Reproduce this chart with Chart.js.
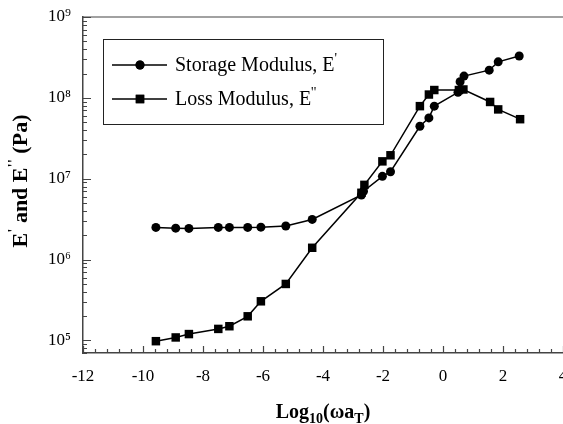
<!DOCTYPE html>
<html>
<head>
<meta charset="utf-8">
<script src="https://cdn.jsdelivr.net/npm/chart.js@4.4.1/dist/chart.umd.min.js"></script>
<style>
    html, body { margin: 0; padding: 0; background: #fff; overflow: hidden; }
    #wrap { width: 569px; height: 424px; }
</style>
</head>
<body>
<div id="wrap"><canvas id="modulusChart" width="569" height="424"></canvas></div>
<script>
// Storage modulus E' (Pa) vs log10(omega a_T)
const storageX = [-9.57, -8.91, -8.47, -7.49, -7.12, -6.51, -6.07, -5.24, -4.36, -2.72, -2.65, -2.02, -1.75, -0.77, -0.47, -0.29, 0.50, 0.57, 0.70, 1.54, 1.84, 2.54];
const storageY = [2.5e6, 2.45e6, 2.43e6, 2.5e6, 2.5e6, 2.5e6, 2.52e6, 2.6e6, 3.14e6, 6.3e6, 7.0e6, 1.07e7, 1.22e7, 4.46e7, 5.65e7, 7.9e7, 1.17e8, 1.58e8, 1.86e8, 2.2e8, 2.79e8, 3.29e8];

// Loss modulus E'' (Pa)
const lossX = [-9.57, -8.91, -8.47, -7.49, -7.12, -6.51, -6.07, -5.24, -4.36, -2.72, -2.62, -2.02, -1.75, -0.77, -0.47, -0.29, 0.53, 0.68, 1.57, 1.84, 2.57];
const lossY = [9.8e4, 1.09e5, 1.2e5, 1.39e5, 1.5e5, 1.99e5, 3.05e5, 5.0e5, 1.4e6, 6.7e6, 8.4e6, 1.64e7, 1.95e7, 7.9e7, 1.1e8, 1.25e8, 1.25e8, 1.27e8, 8.9e7, 7.2e7, 5.45e7];

const xTickLabels = [-12, -10, -8, -6, -4, -2, 0, 2, 4];
const yTickValues = [1e5, 1e6, 1e7, 1e8, 1e9];
const seriesLabels = ["Storage Modulus, E", "Loss Modulus, E"];
const seriesPrimes = ["'", "''"];

const SERIF = '"Liberation Serif", "Times New Roman", serif';
const SUP = { '0': '⁰', '1': '¹', '2': '²', '3': '³', '4': '⁴', '5': '⁵', '6': '⁶', '7': '⁷', '8': '⁸', '9': '⁹' };
const AXIS_COLOR = '#444';

function toPoints(xs, ys) {
    return xs.map((x, i) => ({ x: x, y: ys[i] }));
}

// draws text made of parts, some shifted up/down and smaller
function drawRich(ctx, parts, x, y, align) {
    let total = 0;
    parts.forEach(p => { ctx.font = p.font; total += ctx.measureText(p.text).width; });
    let cx = align === 'center' ? x - total / 2 : x;
    parts.forEach(p => {
        ctx.font = p.font;
        ctx.fillText(p.text, cx, y + (p.dy || 0));
        cx += ctx.measureText(p.text).width;
    });
}

const frameTicks = {
    id: 'frameTicks',
    beforeDatasetsDraw(chart) {
        const ctx = chart.ctx;
        const area = chart.chartArea;
        const xs = chart.scales.x, ys = chart.scales.y;
        ctx.save();
        ctx.strokeStyle = AXIS_COLOR;
        ctx.lineWidth = 1.2;
        // top frame line
        ctx.beginPath();
        ctx.moveTo(area.left, area.top);
        ctx.lineTo(area.right, area.top);
        ctx.stroke();
        // y ticks, inward
        ctx.beginPath();
        for (let d = 4; d <= 9; d++) {
            for (let m = 1; m <= 9; m++) {
                const v = m * Math.pow(10, d);
                if (v < ys.min || v > ys.max) continue;
                const py = Math.round(ys.getPixelForValue(v)) + 0.5;
                const len = m === 1 ? 8 : 4;
                ctx.moveTo(area.left, py);
                ctx.lineTo(area.left + len, py);
            }
        }
        // x ticks, inward, minor every 0.4
        for (let k = 0; k <= 40; k++) {
            const v = xs.min + k * 0.4;
            const px = Math.round(xs.getPixelForValue(v)) + 0.5;
            const len = k % 5 === 0 ? 7 : 4;
            ctx.moveTo(px, area.bottom);
            ctx.lineTo(px, area.bottom - len);
        }
        ctx.stroke();
        ctx.restore();
    },
    afterDraw(chart) {
        const ctx = chart.ctx;
        const area = chart.chartArea;
        ctx.save();
        ctx.fillStyle = '#000';
        ctx.textBaseline = 'alphabetic';

        // x axis title
        const big = 'bold 20px ' + SERIF;
        const small = 'bold 14px ' + SERIF;
        drawRich(ctx, [
            { text: 'Log', font: big },
            { text: '10', font: small, dy: 5 },
            { text: '(ωa', font: big },
            { text: 'T', font: small, dy: 5 },
            { text: ')', font: big }
        ], (area.left + area.right) / 2, 418, 'center');

        // y axis title
        const bigY = 'bold 22px ' + SERIF;
        const smallY = 'bold 15px ' + SERIF;
        ctx.translate(27, 181);
        ctx.rotate(-Math.PI / 2);
        drawRich(ctx, [
            { text: 'E', font: bigY },
            { text: "'", font: smallY, dy: -9 },
            { text: ' and E', font: bigY },
            { text: "''", font: smallY, dy: -9 },
            { text: ' (Pa)', font: bigY }
        ], 0, 0, 'center');
        ctx.setTransform(1, 0, 0, 1, 0, 0);

        // legend box
        ctx.strokeStyle = '#222';
        ctx.lineWidth = 1;
        ctx.strokeRect(103.5, 39.5, 280, 85);
        chart.data.datasets.forEach((ds, i) => {
            const ly = 65 + i * 34;
            ctx.strokeStyle = ds.borderColor;
            ctx.lineWidth = ds.borderWidth;
            ctx.beginPath();
            ctx.moveTo(112, ly);
            ctx.lineTo(167, ly);
            ctx.stroke();
            ctx.fillStyle = ds.pointBackgroundColor;
            Chart.helpers.drawPoint(ctx, {
                pointStyle: ds.pointStyle,
                radius: ds.pointRadius,
                rotation: 0,
                borderWidth: 0
            }, 140, ly);
            ctx.fill();
            ctx.fillStyle = '#000';
            ctx.textBaseline = 'middle';
            drawRich(ctx, [
                { text: seriesLabels[i], font: '20px ' + SERIF },
                { text: seriesPrimes[i], font: '14px ' + SERIF, dy: -7 }
            ], 175, ly + 1, 'left');
        });
        ctx.restore();
    }
};

const ctxModulus = document.getElementById('modulusChart').getContext('2d');

new Chart(ctxModulus, {
    type: 'scatter',
    data: {
        datasets: [{
            label: seriesLabels[0],
            data: toPoints(storageX, storageY),
            showLine: true,
            borderColor: '#000',
            borderWidth: 1.5,
            pointStyle: 'circle',
            pointRadius: 4.5,
            pointBackgroundColor: '#000',
            pointBorderWidth: 0
        }, {
            label: seriesLabels[1],
            data: toPoints(lossX, lossY),
            showLine: true,
            borderColor: '#000',
            borderWidth: 1.5,
            pointStyle: 'rect',
            pointRadius: 6,
            pointBackgroundColor: '#000',
            pointBorderWidth: 0
        }]
    },
    options: {
        responsive: false,
        animation: false,
        layout: { padding: { top: 17, right: 0, left: 0, bottom: 0 } },
        plugins: {
            legend: { display: false },
            tooltip: { enabled: false }
        },
        scales: {
            x: {
                type: 'linear',
                min: -12,
                max: 4,
                afterBuildTicks: s => { s.ticks = xTickLabels.map(v => ({ value: v })); },
                afterFit: s => { s.height = 71; s.paddingLeft = 0; s.paddingRight = 0; },
                grid: { display: false, drawTicks: false },
                border: { display: true, color: AXIS_COLOR, width: 1.5 },
                ticks: {
                    color: '#000',
                    padding: 13,
                    maxRotation: 0,
                    font: { family: SERIF, size: 17 }
                }
            },
            y: {
                type: 'logarithmic',
                min: 7e4,
                max: 1e9,
                afterBuildTicks: s => { s.ticks = yTickValues.map(v => ({ value: v })); },
                afterFit: s => { s.width = 83; s.paddingTop = 0; s.paddingBottom = 0; },
                grid: { display: false, drawTicks: false },
                border: { display: true, color: AXIS_COLOR, width: 1.5 },
                ticks: {
                    color: '#000',
                    padding: 12,
                    font: { family: SERIF, size: 17 },
                    callback: v => '10' + String(Math.round(Math.log10(v))).split('').map(c => SUP[c]).join('')
                }
            }
        }
    },
    plugins: [frameTicks]
});
</script>
</body>
</html>
